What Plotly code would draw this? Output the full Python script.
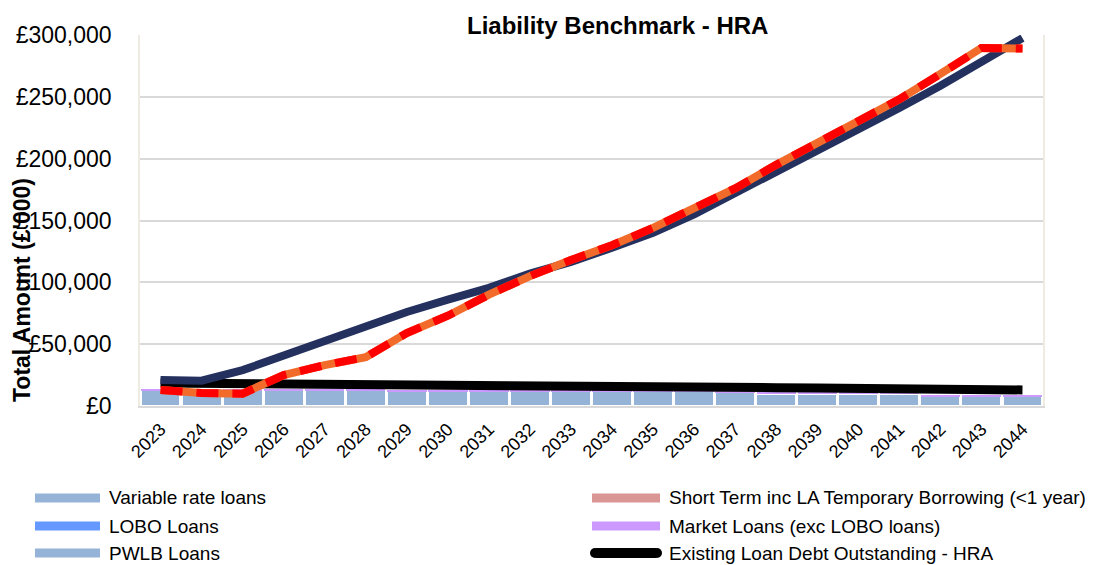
import plotly.graph_objects as go

years = [str(y) for y in range(2023, 2045)]

pwlb_loans = [12800, 12800, 12800, 12800, 12800, 12800, 11600, 11600, 11600, 11600, 11600,
              11600, 11600, 11600, 11300, 9700, 9700, 9700, 9700, 8000, 8000, 8000]
market_loans = [900] * 22

existing_debt = [18500, 18300, 18000, 17500, 17200, 17000, 17000, 17000, 17000, 16800, 16800,
                 16800, 16800, 16800, 16800, 14800, 14500, 14500, 14300, 13200, 13200, 13000]
loans_cfr = [21000, 20500, 29000, 41000, 53000, 64500, 76000, 86000, 95500, 107000, 116500,
             128000, 140000, 155000, 172000, 188500, 205500, 223000, 241000, 259000, 278000, 297500]
net_loans_req = [13000, 10500, 10000, 25000, 33000, 39500, 59000, 73000, 90000, 105000, 118000,
                 130000, 144000, 160000, 176000, 195000, 213000, 230000, 248000, 268500, 289500, 289000]
liability_benchmark = net_loans_req

y_ticks = [0, 50000, 100000, 150000, 200000, 250000, 300000]
y_tick_text = ["£0", "£50,000", "£100,000", "£150,000", "£200,000", "£250,000", "£300,000"]

legend_names = ["Variable rate loans", "LOBO Loans", "PWLB Loans",
                "Short Term inc LA Temporary Borrowing (<1 year)", "Market Loans (exc LOBO loans)",
                "Existing Loan Debt Outstanding - HRA"]
legend_colors = ["#95b3d7", "#6699ff", "#95b3d7", "#da9694", "#cc99ff", "black"]

FONT = "Liberation Sans, Arial, sans-serif"
L, R, T, B, W, H = 140, 55, 35, 159, 1098, 565
PW, PH = W - L - R, H - T - B


def px(x):
    return (x - L) / PW


def py(y):
    return (H - B - y) / PH


fig = go.Figure()

fig.add_trace(go.Bar(x=years, y=pwlb_loans, name="PWLB Loans",
                     marker=dict(color="#95b3d7", line=dict(color="white", width=1.5))))
fig.add_trace(go.Bar(x=years, y=market_loans, name="Market Loans (exc LOBO loans)",
                     marker=dict(color="#cc99ff", line=dict(width=0))))

fig.add_trace(go.Scatter(x=years, y=existing_debt, mode="lines", name="Existing Loan Debt Outstanding - HRA",
                         line=dict(color="black", width=9)))
fig.add_trace(go.Scatter(x=years, y=loans_cfr, mode="lines", name="Loans CFR",
                         line=dict(color="#24305e", width=8)))
fig.add_trace(go.Scatter(x=years, y=net_loans_req, mode="lines", name="Net Loans Requirement",
                         line=dict(color="#f26b2a", width=8)))
fig.add_trace(go.Scatter(x=years, y=liability_benchmark, mode="lines", name="Liability Benchmark",
                         line=dict(color="#ff0000", width=8, dash="22px,14px")))

# manual legend (two columns)
shapes = []
annotations = []
rows_y = [498, 526, 553]
for i, (name, col) in enumerate(zip(legend_names, legend_colors)):
    ry = rows_y[i % 3]
    if i < 3:
        sx0, sx1, tx = 35, 100, 107
    else:
        sx0, sx1, tx = 592, 660, 667
    if col == "black":
        shapes.append(dict(type="line", xref="paper", yref="paper", x0=px(sx0 + 4), x1=px(sx1 - 4),
                           y0=py(ry), y1=py(ry), line=dict(color=col, width=10)))
        shapes.append(dict(type="circle", xref="paper", yref="paper", x0=px(sx0 - 2), x1=px(sx0 + 8),
                           y0=py(ry + 5), y1=py(ry - 5), fillcolor=col, line=dict(width=0)))
        shapes.append(dict(type="circle", xref="paper", yref="paper", x0=px(sx1 - 8), x1=px(sx1 + 2),
                           y0=py(ry + 5), y1=py(ry - 5), fillcolor=col, line=dict(width=0)))
    else:
        shapes.append(dict(type="rect", xref="paper", yref="paper", x0=px(sx0), x1=px(sx1),
                           y0=py(ry + 4.5), y1=py(ry - 4.5), fillcolor=col, line=dict(width=0)))
    annotations.append(dict(text=name, x=px(tx), y=py(ry), xref="paper", yref="paper",
                            xanchor="left", yanchor="middle", showarrow=False,
                            font=dict(size=19, family=FONT)))

annotations += [
    dict(text="<b>Liability Benchmark - HRA</b>", x=px(617), y=py(26), xref="paper", yref="paper",
         xanchor="center", yanchor="middle", showarrow=False, font=dict(size=24)),
    dict(text="<b>Total Amount (£'000)</b>", textangle=-90, x=px(22), y=py(290),
         xref="paper", yref="paper", xanchor="center", yanchor="middle",
         showarrow=False, font=dict(size=23)),
]

fig.update_layout(
    width=W, height=H,
    margin=dict(l=L, r=R, t=T, b=B, autoexpand=False),
    paper_bgcolor="white", plot_bgcolor="white",
    barmode="stack", bargap=0.04,
    font=dict(family=FONT, color="black"),
    showlegend=False,
    xaxis=dict(type="category", tickangle=-45, tickfont=dict(size=18), showgrid=False,
               showline=True, linecolor="#d9d9d9", linewidth=1.5, ticks="", mirror=False,
               ticklabelstandoff=4),
    yaxis=dict(range=[0, 300000], tickvals=y_ticks, ticktext=y_tick_text, tickfont=dict(size=23),
               showgrid=True, gridcolor="#d9d9d9", gridwidth=1.5, zeroline=False,
               showline=True, linecolor="#eeebe2", linewidth=1.5, mirror=True, ticks="", ticklen=0,
               ticklabelstandoff=22),
    shapes=shapes,
    annotations=annotations,
)

fig.write_html("out.html", config={"displayModeBar": False},
               post_script="document.body.style.margin='0';")
